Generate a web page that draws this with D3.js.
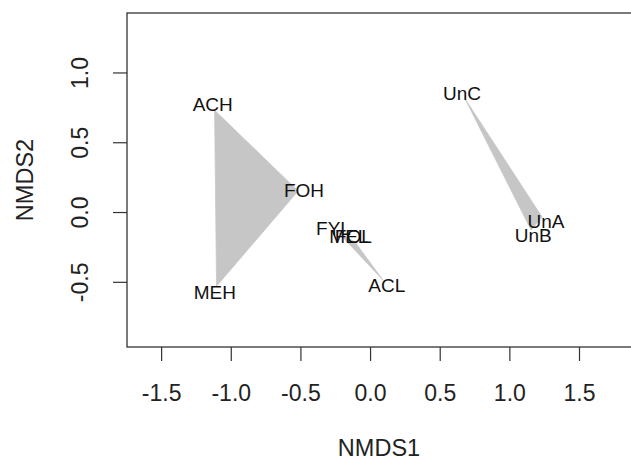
<!DOCTYPE html>
<html>
<head>
<meta charset="utf-8">
<script src="https://cdn.jsdelivr.net/npm/d3@7"></script>
<style>
  body { margin: 0; background: #fff; }
  text { font-family: "Liberation Sans", Arial, sans-serif; }
</style>
</head>
<body>
<svg></svg>
<script>
// site scores from the NMDS
var sites = ["ACH", "FOH", "MEH", "ACL", "FYL", "MEL", "FOL", "UnA", "UnB", "UnC"];
var nmds1 = [-1.116, -0.517, -1.102, 0.093, -0.230, -0.129, -0.108, 1.235, 1.156, 0.682];
var nmds2 = [0.729, 0.151, -0.531, -0.488, -0.144, -0.208, -0.215, -0.036, -0.129, 0.811];
var groups = ["H", "H", "H", "L", "L", "L", "L", "U", "U", "U"];

var xTicks = [-1.5, -1.0, -0.5, 0.0, 0.5, 1.0, 1.5];
var yTicks = [-0.5, 0.0, 0.5, 1.0];

var svgWidth = 631, svgHeight = 461;
var plotL = 127, plotR = 635, plotT = 13, plotB = 347;

var svg = d3.select("svg")
    .attr("width", svgWidth)
    .attr("height", svgHeight);

var xScale = d3.scaleLinear()
    .domain([-1.745, 1.902])
    .range([plotL, plotR]);
var yScale = d3.scaleLinear()
    .domain([-0.967, 1.426])
    .range([plotB, plotT]);

var fmt = function(d) { return d.toFixed(1); };

var pts = sites.map(function(s, i) {
  return { name: s, g: groups[i], px: xScale(nmds1[i]), py: yScale(nmds2[i]) };
});

// hulls per group
var byGroup = d3.group(pts, function(d) { return d.g; });
byGroup.forEach(function(arr) {
  var hull = d3.polygonHull(arr.map(function(d) { return [d.px, d.py]; }));
  svg.append("path")
      .attr("d", "M" + hull.join("L") + "Z")
      .attr("fill", "#c6c6c6")
      .attr("stroke", "#c6c6c6")
      .attr("stroke-width", 0.8);
  // push labels a little away from the group centre
  var cx = d3.mean(arr, function(d) { return d.px; });
  var cy = d3.mean(arr, function(d) { return d.py; });
  arr.forEach(function(d) {
    var dx = d.px - cx, dy = d.py - cy, len = Math.sqrt(dx * dx + dy * dy) || 1;
    d.lx = d.px + dx / len * 6;
    d.ly = d.py + dy / len * 6;
  });
});

svg.selectAll(".site")
    .data(pts)
    .enter().append("text")
    .attr("class", "site")
    .attr("x", function(d) { return d.lx; })
    .attr("y", function(d) { return d.ly; })
    .attr("dy", "0.36em")
    .attr("text-anchor", "middle")
    .attr("font-size", 19)
    .attr("fill", "#111")
    .text(function(d) { return d.name; });

// axes
var x_axis = d3.axisBottom(xScale)
    .tickValues(xTicks)
    .tickFormat(fmt)
    .tickSize(14)
    .tickSizeOuter(0)
    .tickPadding(24);
var gx = svg.append("g")
    .attr("transform", "translate(0," + plotB + ")")
    .call(x_axis);
gx.select(".domain").remove();
gx.selectAll("line").attr("stroke", "#333").attr("stroke-width", 1.2);
gx.selectAll("text").attr("font-size", 23).attr("fill", "#222");

var y_axis = d3.axisLeft(yScale)
    .tickValues(yTicks)
    .tickFormat(fmt)
    .tickSize(14)
    .tickSizeOuter(0);
var gy = svg.append("g")
    .attr("transform", "translate(" + plotL + ",0)")
    .call(y_axis);
gy.select(".domain").remove();
gy.selectAll("line").attr("stroke", "#333").attr("stroke-width", 1.2);
gy.selectAll("text")
    .attr("font-size", 23)
    .attr("fill", "#222")
    .attr("transform", "rotate(-90)")
    .attr("x", 0)
    .attr("y", -47)
    .attr("dy", "0.35em")
    .attr("text-anchor", "middle");

// plot box
svg.append("rect")
    .attr("x", plotL)
    .attr("y", plotT)
    .attr("width", plotR - plotL)
    .attr("height", plotB - plotT)
    .attr("fill", "none")
    .attr("stroke", "#333")
    .attr("stroke-width", 1.3);

// axis titles
svg.append("text")
    .attr("x", (plotL + plotR) / 2 - 2)
    .attr("y", 448)
    .attr("dy", "0.35em")
    .attr("text-anchor", "middle")
    .attr("font-size", 23.5)
    .attr("fill", "#222")
    .text("NMDS1");

svg.append("text")
    .attr("transform", "translate(25," + ((plotT + plotB) / 2) + ") rotate(-90)")
    .attr("dy", "0.35em")
    .attr("text-anchor", "middle")
    .attr("font-size", 23.5)
    .attr("fill", "#222")
    .text("NMDS2");
</script>
</body>
</html>
